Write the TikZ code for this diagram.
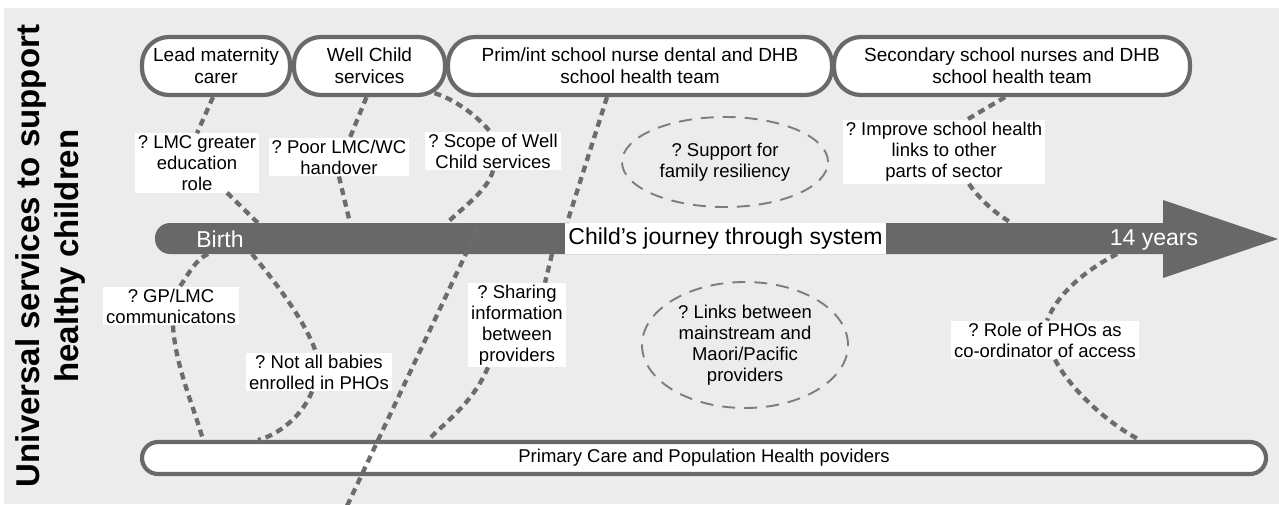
\documentclass[tikz,border=0pt]{standalone}
\usepackage{fontspec}
\setmainfont{Liberation Sans}
\usetikzlibrary{shapes.geometric}
\definecolor{paper}{RGB}{236,236,236}
\definecolor{rim}{RGB}{105,105,105}
\definecolor{trunk}{RGB}{104,104,104}
\definecolor{dots}{RGB}{108,108,108}
\definecolor{oval}{RGB}{125,125,125}
\frenchspacing

\begin{document}
\begin{tikzpicture}[x=1pt,y=-1pt]
	\tikzstyle{every node}=[font=\fontsize{18.5}{21}\selectfont]
	\tikzstyle{carebox}=[draw=rim, line width=4.2pt, fill=white, align=center, inner sep=0pt, font=\fontsize{19}{22}\selectfont]
	\tikzstyle{qbox}=[fill=white, align=center, inner xsep=3pt, inner ysep=2pt]
	\tikzstyle{qoval}=[ellipse, draw=oval, line width=1.9pt, dash pattern=on 13pt off 9pt, align=center, inner sep=0pt]
	\tikzstyle{link}=[draw=dots, line width=4.3pt, dash pattern=on 7pt off 5pt]
	
	\useasboundingbox (0,0) rectangle (1279,504);
	\fill[paper] (4,8) rectangle (1279,504);
	
	\node[rotate=90, align=center, inner sep=0pt, font=\bfseries\fontsize{33}{39}\selectfont] (title) at (50,256) {Universal services to support\\healthy children};
	
	\fill[trunk] (600,254) [rounded corners=15pt] -- (155,254) -- (155,223) -- (600,223) [sharp corners] -- (1163,223) -- (1163,200) -- (1278,239) -- (1163,278) -- (1163,254) -- cycle;
	\node[text=white, font=\fontsize{23}{26}\selectfont] (birth) at (220,239) {Birth};
	\node[fill=white, minimum height=31pt, inner xsep=3pt, inner ysep=0pt, font=\fontsize{23}{26}\selectfont] (journey) at (725.5,238.5) {Child's journey through system};
	\node[text=white, font=\fontsize{23}{26}\selectfont] (years) at (1154,240) {14 years};
	
	\coordinate (a1) at (258,223);
	\coordinate (a2) at (350,223);
	\coordinate (a3) at (447,223);
	\coordinate (a4) at (567,223);
	\coordinate (a5) at (1012,223);
	\coordinate (b1) at (208,254);
	\coordinate (b2) at (252,254);
	\coordinate (b3) at (552,254);
	\coordinate (b4) at (1117,254);
	
	\node[carebox, rounded corners=27pt, minimum width=148pt, minimum height=58pt] (lmc) at (216,66) {Lead maternity\\carer};
	\node[carebox, rounded corners=27pt, minimum width=151pt, minimum height=58pt] (wcs) at (369.5,66) {Well Child\\services};
	\node[carebox, rounded corners=27pt, minimum width=384pt, minimum height=58pt] (prim) at (640,66) {Prim/int school nurse dental and DHB\\school health team};
	\node[carebox, rounded corners=27pt, minimum width=356pt, minimum height=58pt] (sec) at (1012,66) {Secondary school nurses and DHB\\school health team};
	\node[carebox, rounded corners=16pt, minimum width=1124pt, minimum height=32pt, font=\fontsize{18.5}{21}\selectfont] (pcp) at (704,458) {Primary Care and Population Health poviders};
	
	\coordinate (c1) at (203,440);
	\coordinate (c2) at (258,440);
	\coordinate (c3) at (428,440);
	\coordinate (c4) at (1140,440);
	
	\node[qbox] (lmcq) at (197,163) {? LMC greater\\education\\role};
	\node[qbox] (poorq) at (339,157) {? Poor LMC/WC\\handover};
	\node[qbox] (scopeq) at (493,151) {? Scope of Well\\Child services};
	\node[qoval, minimum width=206pt, minimum height=90pt] (famq) at (725,162) {? Support for\\family resiliency};
	\node[qbox] (improveq) at (944,152) {? Improve school health\\links to other\\parts of sector};
	\node[qbox] (gpq) at (171,306) {? GP/LMC\\communicatons};
	\node[qbox] (babiesq) at (319,372) {? Not all babies\\enrolled in PHOs};
	\node[qbox] (shareq) at (517,325) {? Sharing\\information\\between\\providers};
	\node[qoval, minimum width=206pt, minimum height=126pt] (maoriq) at (745,345) {? Links between\\mainstream and\\Maori/Pacific\\providers};
	\node[qbox] (roleq) at (1045,340) {? Role of PHOs as\\co-ordinator of access};
	
	\draw[link] ([xshift=-3pt]lmc.south) -- (lmcq.north);
	\draw[link] ([xshift=30pt]lmcq.south) -- (a1);
	\draw[link] ([xshift=-3pt]wcs.south) -- ([xshift=11pt]poorq.north);
	\draw[link] (poorq.south) -- (a2);
	\draw[link] ([xshift=65pt,yshift=4pt]wcs.south) .. controls +(25,8) and +(-10,-12) .. ([xshift=-3pt]scopeq.north);
	\draw[link] (scopeq.south) .. controls +(-5,20) and +(15,-15) .. (a3);
	\draw[link] ([xshift=-33pt]prim.south) -- (a4);
	\draw[link] (b3) -- ([xshift=28pt]shareq.north);
	\draw[link] ([xshift=-29pt]shareq.south) .. controls +(-15,35) and +(20,-20) .. (c3);
	\draw[link] ([xshift=-7pt]sec.south) -- ([xshift=22pt]improveq.north);
	\draw[link] ([xshift=25pt]improveq.south) .. controls +(10,15) and +(-15,-8) .. (a5);
	\draw[link] (b4) .. controls +(-35,18) and +(10,-25) .. ([xshift=2pt]roleq.north);
	\draw[link] ([xshift=10pt]roleq.south) .. controls +(15,30) and +(-30,-15) .. (c4);
	\draw[link] (b1) .. controls +(-12,5) and +(8,-12) .. ([xshift=9pt]gpq.north);
	\draw[link] ([xshift=2pt]gpq.south) .. controls +(2,40) and +(-8,-30) .. (c1);
	\draw[link] (b2) .. controls +(25,30) and +(-10,-30) .. ([xshift=-3pt]babiesq.north);
	\draw[link] ([xshift=-7pt]babiesq.south) .. controls +(-10,25) and +(20,-5) .. (c2);
	
	\coordinate (s1) at (478,228);
	\coordinate (s2) at (347,506);
	\draw[link] (s1) -- (s2);
	
\end{tikzpicture}
\end{document}
